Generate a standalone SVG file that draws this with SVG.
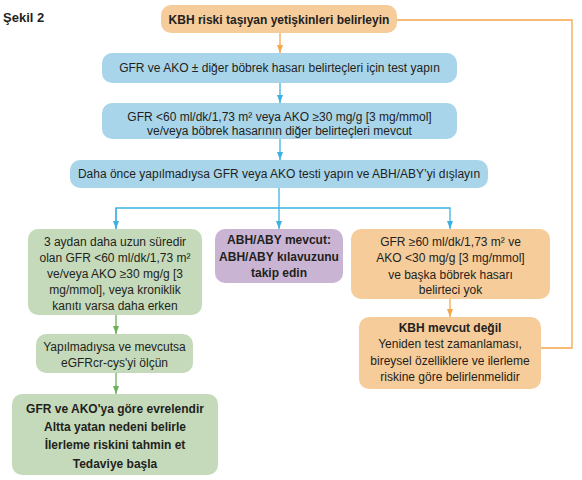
<svg xmlns="http://www.w3.org/2000/svg" width="582" height="480" viewBox="0 0 582 480">
<defs>
<marker id="aO" viewBox="0 0 8 6" refX="8" refY="3" markerWidth="8" markerHeight="6" markerUnits="userSpaceOnUse" orient="auto"><path d="M0,0 L8,3 L0,6 z" fill="#F4A74A"/></marker>
<marker id="aB" viewBox="0 0 8 6" refX="8" refY="3" markerWidth="8" markerHeight="6" markerUnits="userSpaceOnUse" orient="auto"><path d="M0,0 L8,3 L0,6 z" fill="#3DB2E2"/></marker>
<marker id="aG" viewBox="0 0 8 6" refX="8" refY="3" markerWidth="8" markerHeight="6" markerUnits="userSpaceOnUse" orient="auto"><path d="M0,0 L8,3 L0,6 z" fill="#6CB15A"/></marker>
</defs>
<style>
text{font-family:"Liberation Sans","Noto Sans",sans-serif;font-size:12px;fill:#231F20;text-anchor:middle}
.b{font-weight:bold}
.or{fill:#F6CC9B}
.bl{fill:#A9D5EB}
.gr{fill:#C5DABA}
.pu{fill:#C9B5D3}
.lo{stroke:#F4A74A;stroke-width:1.3;fill:none}
.lb{stroke:#3DB2E2;stroke-width:1.3;fill:none}
.lg{stroke:#6CB15A;stroke-width:1.3;fill:none}
</style>
<rect width="582" height="480" fill="#ffffff"/>
<text x="3" y="22" class="b" style="text-anchor:start;font-size:13px">Şekil 2</text>
<g id="connectors">
<path class="lo" d="M397,20 H572 V348 H541"/>
<path class="lo" d="M280,33 V53" marker-end="url(#aO)"/>
<path class="lb" d="M280,83 V103" marker-end="url(#aB)"/>
<path class="lb" d="M280,139 V160" marker-end="url(#aB)"/>
<path class="lb" d="M279,188 V229" marker-end="url(#aB)"/>
<path class="lb" d="M116,229 V208 H450 V229" marker-end="url(#aB)"/>
<path class="lb" d="M116,208 V229" marker-end="url(#aB)"/>
<path class="lo" d="M450,299 V317" marker-end="url(#aO)"/>
<path class="lg" d="M116,315 V334" marker-end="url(#aG)"/>
<path class="lg" d="M116,373 V394" marker-end="url(#aG)"/>
</g>
<g id="n1"><rect class="or" x="161" y="5" width="236" height="28" rx="10"/><text x="279" y="23.5" class="b">KBH riski taşıyan yetişkinleri belirleyin</text></g>
<g id="n2"><rect class="bl" x="102" y="53" width="355" height="30" rx="10"/><text x="279.5" y="72">GFR ve AKO ± diğer böbrek hasarı belirteçleri için test yapın</text></g>
<g id="n3"><rect class="bl" x="102" y="103" width="355" height="36" rx="10"/><text x="279.5" y="121">GFR &lt;60 ml/dk/1,73 m² veya AKO ≥30 mg/g [3 mg/mmol]</text><text x="279.5" y="135">ve/veya böbrek hasarının diğer belirteçleri mevcut</text></g>
<g id="n4"><rect class="bl" x="70" y="160" width="418" height="28" rx="10"/><text x="279" y="178">Daha önce yapılmadıysa GFR veya AKO testi yapın ve ABH/ABY’yi dışlayın</text></g>
<g id="n5"><rect class="gr" x="28" y="229" width="174" height="86" rx="10"/><text x="115" y="246">3 aydan daha uzun süredir</text><text x="115" y="262">olan GFR &lt;60 ml/dk/1,73 m²</text><text x="115" y="278">ve/veya AKO ≥30 mg/g [3</text><text x="115" y="294">mg/mmol], veya kroniklik</text><text x="115" y="310">kanıtı varsa daha erken</text></g>
<g id="n6"><rect class="pu" x="215" y="229" width="128" height="54" rx="10"/><text x="279" y="244" class="b">ABH/ABY mevcut:</text><text x="279" y="261" class="b">ABH/ABY kılavuzunu</text><text x="279" y="277" class="b">takip edin</text></g>
<g id="n7"><rect class="or" x="351" y="229" width="199" height="70" rx="10"/><text x="450.5" y="246">GFR ≥60 ml/dk/1,73 m² ve</text><text x="450.5" y="262">AKO &lt;30 mg/g [3 mg/mmol]</text><text x="450.5" y="279">ve başka böbrek hasarı</text><text x="450.5" y="294">belirteci yok</text></g>
<g id="n8"><rect class="or" x="359" y="317" width="182" height="72" rx="10"/><text x="450" y="332" class="b">KBH mevcut değil</text><text x="450" y="348">Yeniden test zamanlaması,</text><text x="450" y="365">bireysel özelliklere ve ilerleme</text><text x="450" y="381">riskine göre belirlenmelidir</text></g>
<g id="n9"><rect class="gr" x="36" y="334" width="157" height="39" rx="10"/><text x="114.5" y="351">Yapılmadıysa ve mevcutsa</text><text x="114.5" y="367">eGFRcr-cys'yi ölçün</text></g>
<g id="n10"><rect class="gr" x="12" y="394" width="206" height="81" rx="10"/><text x="115" y="413" class="b">GFR ve AKO'ya göre evrelendir</text><text x="115" y="431" class="b">Altta yatan nedeni belirle</text><text x="115" y="449" class="b">İlerleme riskini tahmin et</text><text x="115" y="468" class="b">Tedaviye başla</text></g>
</svg>
